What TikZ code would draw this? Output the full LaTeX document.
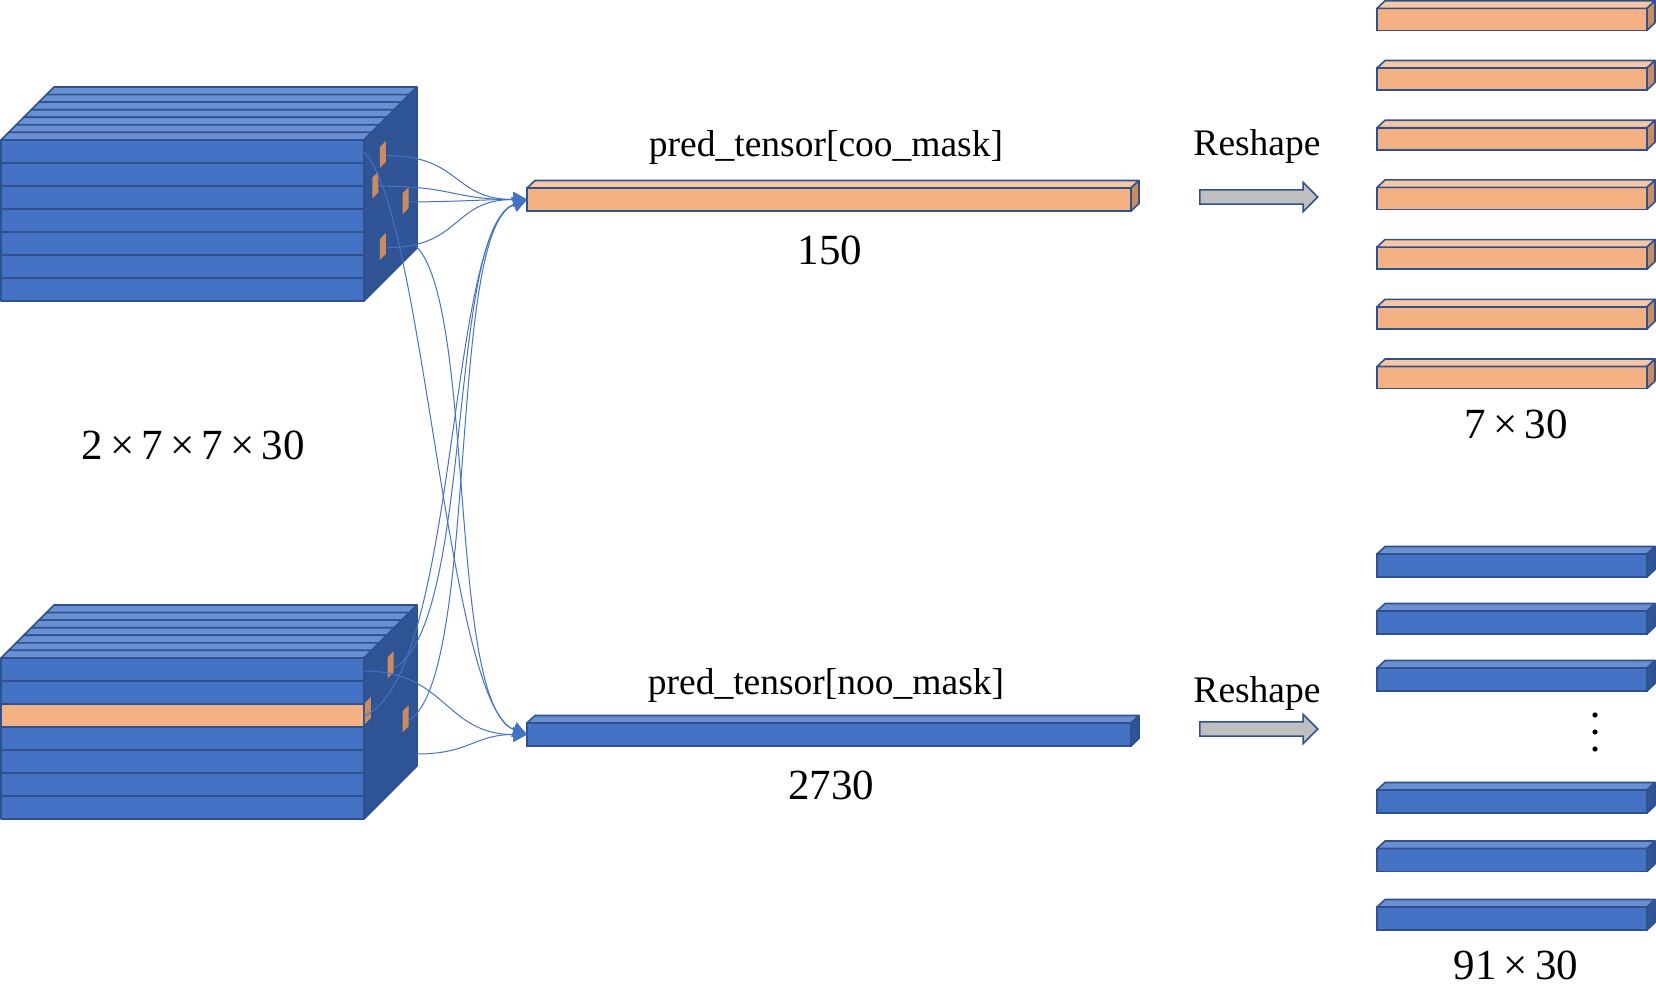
\documentclass[tikz,border=0pt]{standalone}
\usepackage{fontspec}
\setmainfont{Liberation Serif}
\usetikzlibrary{arrows.meta,calc,shapes.arrows}

\definecolor{cubeblue}{HTML}{4472C4}
\definecolor{topblue}{HTML}{6A8FD2}
\definecolor{sideblue}{HTML}{2F5597}
\definecolor{edgeblue}{HTML}{2F528F}
\definecolor{objorange}{HTML}{F4B183}
\definecolor{toporange}{HTML}{F7C6A3}
\definecolor{sideorange}{HTML}{C98B62}

\begin{document}
\begin{tikzpicture}[
    x=1bp, y=-1bp,
    % box faces
    face/.style={draw=edgeblue, line width=1.6bp, line join=round},
    grid/.style={draw=edgeblue, line width=1.1bp},
    bar/.style={draw=edgeblue, line width=1.6bp, inner sep=0pt, outer sep=0pt, anchor=north west, minimum width=604bp, minimum height=23bp},
    slab/.style={bar, minimum width=270bp, minimum height=22bp},
    cell/.style={fill=sideorange},
    % connectors and labels
    conn/.style={draw=cubeblue, line width=1bp, -{Triangle[length=14bp,width=15bp]}},
    reshape/.style={single arrow, draw=edgeblue, fill=black!25, line width=1.5bp, inner sep=0pt, inner ysep=6.3bp, minimum height=118bp, single arrow head extend=7.7bp, anchor=tail},
    nameText/.style={font=\fontsize{37.5bp}{44bp}\selectfont, anchor=base, inner sep=0pt},
    sizeText/.style={font=\fontsize{43bp}{50bp}\selectfont, anchor=base, inner sep=0pt}
]
\useasboundingbox (0,0) rectangle (1656,986);

% --- the two 7x7x30 cubes ---
\foreach \cy in {140,658}{
  \foreach \k in {6,...,0}
    \draw[face, fill=topblue] (1+\k*7.57,\cy-\k*7.57) -- ++(363,0) -- ++(7.57,-7.57) -- ++(-363,0) -- cycle;
  \draw[face, fill=sideblue] (364,\cy) -- ++(53,-53) -- ++(0,161) -- ++(-53,53) -- cycle;
  \foreach \k in {1,...,6}
    \draw[grid] (364+\k*7.57,\cy-\k*7.57) -- ++(0,161);
  \foreach \r in {1,...,6}
    \draw[grid] (364,\cy+\r*23) -- ++(53,-53);
  \foreach \r in {0,...,6}
    \draw[face, fill=cubeblue] (1,\cy+\r*23) rectangle ++(363,23);
}
\draw[face, fill=objorange] (1,704) rectangle ++(363,23);

% object cells on the side faces (row/column)
\foreach \cy/\r/\c in {140/1/2,140/2/1,140/4/5,140/5/2,658/1/3,658/2/0,658/4/5}
  \fill[cell] (364.8+\c*7.57,\cy+\r*23-\c*7.57-1) -- ++(6,-6) -- ++(0,21) -- ++(-6,6) -- cycle;

\node[sizeText] (cubeSize) at (193,459) {2\,×\,7\,×\,7\,×\,30};

% --- flattened tensors ---
\node[bar, fill=objorange] (coo) at (527,188) {};
\draw[face, fill=toporange] (coo.north west) -- ++(8,-7.5) -- ($(coo.north east)+(8,-7.5)$) -- (coo.north east) -- cycle;
\draw[face, fill=sideorange] (coo.north east) -- ++(8,-7.5) -- ++(0,23) -- (coo.south east) -- cycle;
\node[nameText] (cooName) at (826,156) {pred\_tensor[coo\_mask]};
\node[sizeText] (cooSize) at (830,264) {150};

\node[bar, fill=cubeblue] (noo) at (527,723) {};
\draw[face, fill=topblue] (noo.north west) -- ++(8,-7.5) -- ($(noo.north east)+(8,-7.5)$) -- (noo.north east) -- cycle;
\draw[face, fill=sideblue] (noo.north east) -- ++(8,-7.5) -- ++(0,23) -- (noo.south east) -- cycle;
\node[nameText] (nooName) at (826,694) {pred\_tensor[noo\_mask]};
\node[sizeText] (nooSize) at (831,799) {2730};

% --- cells picked by the masks ---
\coordinate (a1) at (386.7,155.6);
\coordinate (a2) at (379.1,186.1);
\coordinate (a3) at (409.4,201.9);
\coordinate (a4) at (386.7,247.6);
\coordinate (b1) at (364,152);
\coordinate (b2) at (416,246);
\coordinate (c1) at (394.3,668);
\coordinate (c2) at (364,716);
\coordinate (c3) at (409.4,720);
\coordinate (d1) at (364,671);
\coordinate (d2) at (417,754);

\draw[conn] (a1) to[out=0, in=180, looseness=1.3] (coo.west);
\draw[conn] (a2) to[out=0, in=180, looseness=1.3] (coo.west);
\draw[conn] (a3) to[out=0, in=180] (coo.west);
\draw[conn] (a4) to[out=0, in=180, looseness=1.3] (coo.west);
\draw[conn] (c1) .. controls +(80,-45) and +(-80,30) .. (coo.west);
\draw[conn] (c2) .. controls +(95,-40) and +(-80,30) .. (coo.west);
\draw[conn] (c3) .. controls +(70,-45) and +(-80,30) .. (coo.west);

\draw[conn] (b1) .. controls +(60,60) and +(-80,-30) .. (noo.west);
\draw[conn] (b2) .. controls +(60,60) and +(-80,-30) .. (noo.west);
\draw[conn] (d1) to[out=0, in=180, looseness=1.2] (noo.west);
\draw[conn] (d2) to[out=0, in=180, looseness=1.2] (noo.west);

% --- reshape ---
\node[nameText] (reshapeTxt1) at (1257,155) {Reshape};
\node[reshape] (reshape1) at (1199,197) {};
\node[nameText] (reshapeTxt2) at (1257,702) {Reshape};
\node[reshape] (reshape2) at (1199,729) {};

\foreach \i/\ty in {1/8.3,2/68,3/127.7,4/187.4,5/247.1,6/306.8,7/366.5}{
  \node[slab, fill=objorange] (row\i) at (1377,\ty) {};
  \draw[face, fill=toporange] (row\i.north west) -- ++(8,-7.5) -- ($(row\i.north east)+(8,-7.5)$) -- (row\i.north east) -- cycle;
  \draw[face, fill=sideorange] (row\i.north east) -- ++(8,-7.5) -- ++(0,22) -- (row\i.south east) -- cycle;
}
\node[sizeText] (rowSize) at (1516,438) {7\,×\,30};

\foreach \i/\ty in {1/554,2/611,3/668,4/790,5/848.5,6/907}{
  \node[slab, fill=cubeblue, minimum height=23bp] (grp\i) at (1377,\ty) {};
  \draw[face, fill=topblue] (grp\i.north west) -- ++(8,-7.5) -- ($(grp\i.north east)+(8,-7.5)$) -- (grp\i.north east) -- cycle;
  \draw[face, fill=sideblue] (grp\i.north east) -- ++(8,-7.5) -- ++(0,23) -- (grp\i.south east) -- cycle;
}
\foreach \dy in {715,732,749}
  \fill (1595,\dy) circle (2.6);
\node[sizeText] (grpSize) at (1516,979) {91\,×\,30};

\end{tikzpicture}
\end{document}
